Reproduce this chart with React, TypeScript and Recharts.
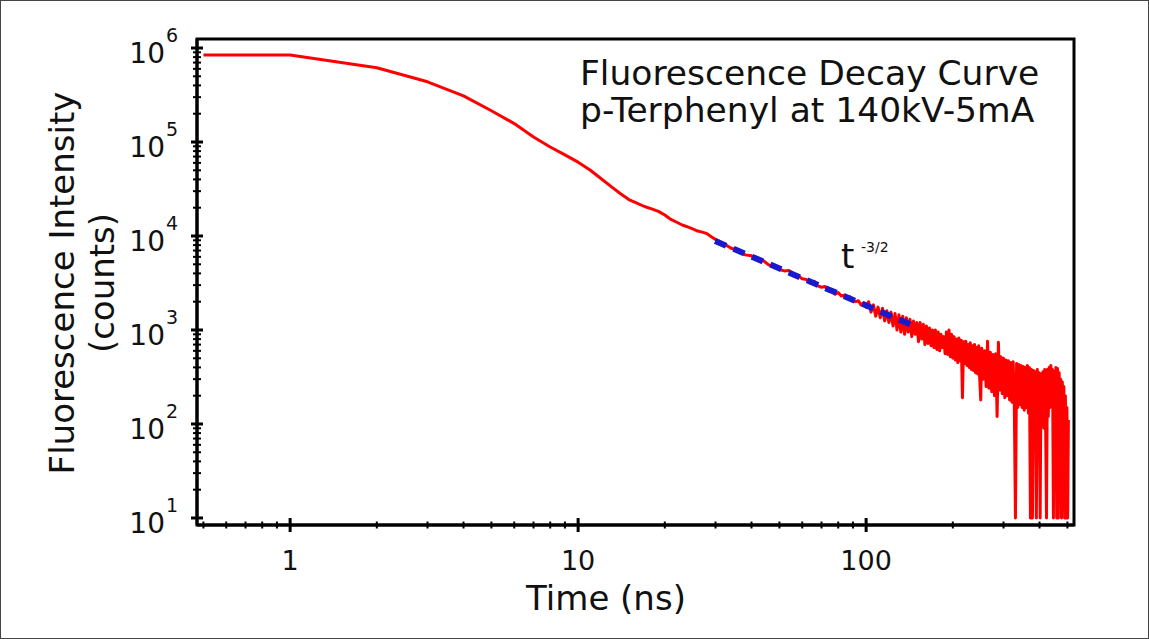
import React from 'react';
import { LineChart, Line, XAxis, YAxis, ReferenceArea } from 'recharts';

const FONT = '"DejaVu Sans", "Open Sans", sans-serif';

// Red measured curve: [time (ns), counts]
const redRise: [number, number][] = [
  [0.5, 843000], [1, 843000], [2, 617000], [3, 437000], [4, 310000], [5, 215000],
  [6, 157000], [7, 113000], [8, 88500], [9, 73000], [10, 61000], [11, 50400],
  [12, 40900], [13, 33700], [14, 28300], [15, 24400], [16, 22400], [17, 20600],
  [18, 19400], [19, 18300], [20, 16700], [21, 15000], [22, 14000], [23, 13100],
  [24, 12500], [25, 11900], [26, 11300], [27, 11000], [28, 10600], [29, 9800], [30, 9200],
];
const redMid: [number, number][] = [
  [32, 8300], [34, 7400], [36, 7050], [38, 6300], [40, 6150], [42, 5500], [44, 5450],
  [46, 4900], [48, 4850], [50, 4400], [52, 4250], [54, 4300], [56, 3850], [58, 3800],
  [60, 3500], [62, 3450], [64, 3150], [66, 3300], [68, 2950], [70, 2850], [72, 2900],
  [74, 2600], [76, 2700], [78, 2400], [80, 2500], [82, 2300], [84, 2350], [86, 2150],
  [88, 2250], [90, 2050], [92, 2000], [94, 2050], [96, 1850], [98, 1950], [100, 1750],
];
const redNoisy: [number, number][] = [
  [102, 2000], [104, 1550], [106, 1850], [108, 1400], [110, 1750], [112, 1350], [114, 1700],
  [116, 1250], [118, 1600], [120, 1200], [122, 1550], [124, 1100], [126, 1500], [128, 1000],
  [130, 1450], [132, 950], [134, 1400], [136, 900], [138, 1350], [140, 950], [142, 1300],
  [144, 850], [146, 1250], [148, 900], [150, 1200], [152, 750], [154, 1200], [156, 800],
  [158, 1150], [160, 700], [162, 1100], [164, 720], [166, 1050], [168, 680], [170, 1000],
  [172, 650], [174, 1000], [176, 620], [178, 950], [180, 600], [182, 900], [184, 650],
  [186, 850], [188, 560], [190, 950], [192, 550], [194, 1000], [196, 520], [198, 900],
  [200, 500], [202, 850], [204, 480], [206, 800], [208, 450], [210, 820], [212, 470],
  [214, 780], [216, 190], [218, 750], [220, 440], [222, 760], [224, 420], [226, 700],
  [228, 400], [230, 730], [232, 380], [234, 680], [236, 370], [238, 700], [240, 350],
  [242, 650], [244, 340], [246, 680], [248, 300], [250, 180], [252, 640],
];
const redTail: [number, number][] = [
  [255, 300], [258, 600], [261, 250], [264, 760], [267, 240], [270, 580], [273, 220],
  [276, 550], [279, 200], [282, 560], [285, 120], [288, 740], [291, 230], [294, 520],
  [297, 210], [300, 500], [303, 190], [306, 480], [309, 200], [312, 470], [315, 180],
  [318, 450], [321, 170], [324, 460], [327, 160], [330, 10], [333, 440], [336, 150],
  [339, 430], [342, 160], [345, 420], [348, 150], [351, 410], [354, 140], [357, 400],
  [360, 150], [363, 420], [366, 130], [369, 400], [372, 10], [375, 380], [378, 10],
  [381, 370], [384, 120], [387, 360], [390, 10], [393, 380], [396, 110], [399, 350],
  [402, 10], [405, 340], [408, 100], [411, 360], [414, 90], [417, 380], [420, 100],
  [423, 10], [426, 380], [429, 120], [432, 400], [435, 150], [438, 420], [441, 160],
  [444, 380], [447, 10], [450, 360], [453, 120], [456, 400], [459, 10], [462, 390],
  [465, 10], [468, 350], [471, 130], [474, 300], [477, 10], [480, 280], [483, 100],
  [486, 250], [489, 10], [492, 200], [495, 10], [498, 150], [501, 10], [504, 110],
];

// Blue dashed power-law fit
const fitTimes = [29.9, 144];
const fitCounts = [8850, 1130];

const xMajorTicks = [1, 10, 100];
const xMajorLabels = ['1', '10', '100'];
const xMinorTicks = [0.5, 0.6, 0.7, 0.8, 0.9, 2, 3, 4, 5, 6, 7, 8, 9, 20, 30, 40, 50, 60, 70, 80, 90, 200, 300, 400, 500];
const yMajorTicks = [10, 100, 1000, 10000, 100000, 1000000];
const yMajorExponents = ['1', '2', '3', '4', '5', '6'];
const yMinorTicks = [
  20, 30, 40, 50, 60, 70, 80, 90,
  200, 300, 400, 500, 600, 700, 800, 900,
  2000, 3000, 4000, 5000, 6000, 7000, 8000, 9000,
  20000, 30000, 40000, 50000, 60000, 70000, 80000, 90000,
  200000, 300000, 400000, 500000, 600000, 700000, 800000, 900000,
];

const xDomain = [0.475, 527];
const yDomain = [8.42, 1247000];

const titleLines = ['Fluorescence Decay Curve', 'p-Terphenyl at 140kV-5mA'];
const yLabelLines = ['Fluorescence Intensity', '(counts)'];
const xLabel = 'Time (ns)';
const fitLabel = 't';
const fitLabelSup = '-3/2';

const redData = [...redRise, ...redMid, ...redNoisy, ...redTail].map(([t, v]) => ({ t, v }));
const fitData = fitTimes.map((t, i) => ({ t, v: fitCounts[i] }));
const xTicks = [...xMinorTicks, ...xMajorTicks].sort((a, b) => a - b);
const yTicks = [...yMinorTicks, ...yMajorTicks].sort((a, b) => a - b);

const XTick = (props: any) => {
  const { x, y, payload } = props;
  const v = payload.value;
  const idx = xMajorTicks.indexOf(v);
  const major = idx >= 0;
  const h = major ? 7 : 3.5;
  return (
    <g>
      <line x1={x} x2={x} y1={y - h} y2={y + h} stroke="#000" strokeWidth={major ? 3 : 2} />
      {major && (
        <text x={x} y={y + 45} textAnchor="middle" fontSize={27} fontFamily={FONT} fill="#111">
          {xMajorLabels[idx]}
        </text>
      )}
    </g>
  );
};

const YTick = (props: any) => {
  const { x, y, payload } = props;
  const v = payload.value;
  const idx = yMajorTicks.indexOf(v);
  const major = idx >= 0;
  const w = major ? 6 : 4;
  return (
    <g>
      <line x1={x - w} x2={x + w} y1={y} y2={y} stroke="#000" strokeWidth={major ? 3 : 2} />
      {major && (
        <>
          <text x={x - 32} y={y + 15} textAnchor="end" fontSize={28} fontFamily={FONT} fill="#111">10</text>
          <text x={x - 31} y={y - 6} textAnchor="start" fontSize={19} fontFamily={FONT} fill="#111">
            {yMajorExponents[idx]}
          </text>
        </>
      )}
    </g>
  );
};

export default function App() {
  return (
    <div
      style={{
        position: 'absolute',
        left: 0,
        top: 0,
        width: 1149,
        height: 639,
        boxSizing: 'border-box',
        border: '1px solid #444',
        background: '#fff',
      }}
    >
      <div style={{ position: 'absolute', left: -1, top: -1 }}>
        <LineChart width={1149} height={639} margin={{ top: 39, right: 75, left: 0, bottom: 0 }}>
          <XAxis
            dataKey="t"
            type="number"
            scale="log"
            domain={xDomain}
            allowDataOverflow
            ticks={xTicks}
            interval={0}
            tick={<XTick />}
            tickLine={false}
            tickSize={0}
            tickMargin={0}
            height={114}
            axisLine={{ stroke: '#000', strokeWidth: 3 }}
          />
          <YAxis
            dataKey="v"
            type="number"
            scale="log"
            domain={yDomain}
            allowDataOverflow
            ticks={yTicks}
            interval={0}
            tick={<YTick />}
            tickLine={false}
            tickSize={0}
            tickMargin={0}
            width={197}
            axisLine={{ stroke: '#000', strokeWidth: 3 }}
          />
          <ReferenceArea
            x1={xDomain[0]}
            x2={xDomain[1]}
            y1={yDomain[0]}
            y2={yDomain[1]}
            fill="none"
            fillOpacity={0}
            stroke="#000"
            strokeWidth={3}
            ifOverflow="visible"
          />
          <Line
            data={redData}
            dataKey="v"
            type="linear"
            stroke="#ff0000"
            strokeWidth={3}
            strokeLinejoin="round"
            dot={false}
            isAnimationActive={false}
          />
          <Line
            data={fitData}
            dataKey="v"
            type="linear"
            stroke="#1a1acb"
            strokeWidth={6}
            strokeDasharray="12 8"
            dot={false}
            isAnimationActive={false}
          />
          <text x={580} y={85} fontSize={34.5} fontFamily={FONT} fill="#111">{titleLines[0]}</text>
          <text x={580} y={122} fontSize={34.5} fontFamily={FONT} fill="#111">{titleLines[1]}</text>
          <text x={841} y={268} fontSize={34} fontFamily={FONT} fill="#111">{fitLabel}</text>
          <text x={861} y={252} fontSize={14} fontFamily={FONT} fill="#111">{fitLabelSup}</text>
          <text x={606} y={610} textAnchor="middle" fontSize={34} fontFamily={FONT} fill="#111">{xLabel}</text>
          <text x={74} y={283} transform="rotate(-90, 74, 283)" textAnchor="middle" fontSize={34} fontFamily={FONT} fill="#111">
            {yLabelLines[0]}
          </text>
          <text x={114} y={283} transform="rotate(-90, 114, 283)" textAnchor="middle" fontSize={34} fontFamily={FONT} fill="#111">
            {yLabelLines[1]}
          </text>
        </LineChart>
      </div>
    </div>
  );
}
